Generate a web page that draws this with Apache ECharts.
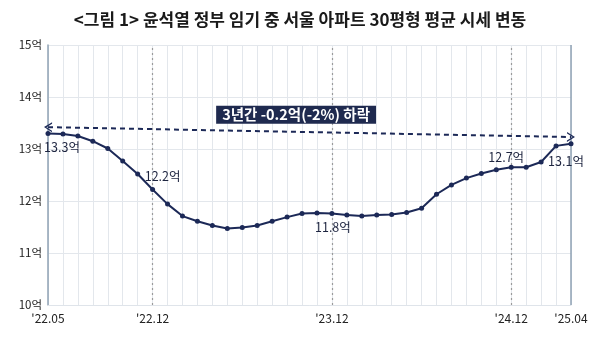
<!DOCTYPE html>
<html>
<head>
<meta charset="utf-8">
<script src="https://cdn.jsdelivr.net/npm/echarts@6/dist/echarts.min.js"></script>
<style>
  html, body { margin: 0; padding: 0; background: #fff; }
  #chart { width: 600px; height: 353px; }
</style>
</head>
<body>
<div id="chart"></div>
<script>
// 월별 카테고리 (22.05 ~ 25.04)
const months = [
  "22.05", "22.06", "22.07", "22.08", "22.09", "22.10", "22.11", "22.12",
  "23.01", "23.02", "23.03", "23.04", "23.05", "23.06", "23.07", "23.08", "23.09", "23.10", "23.11", "23.12",
  "24.01", "24.02", "24.03", "24.04", "24.05", "24.06", "24.07", "24.08", "24.09", "24.10", "24.11", "24.12",
  "25.01", "25.02", "25.03", "25.04"
];
// 서울 아파트 30평형 평균 시세 (억원)
const prices = [
  13.30, 13.29, 13.25, 13.15, 13.01, 12.77, 12.52, 12.22,
  11.94, 11.71, 11.61, 11.53, 11.47, 11.49, 11.53, 11.61, 11.69, 11.76, 11.77, 11.76,
  11.73, 11.71, 11.73, 11.74, 11.78, 11.86, 12.13, 12.31, 12.44, 12.53, 12.60, 12.65,
  12.65, 12.75, 13.06, 13.10
];
// x축 라벨 표시 월
const shownTicks = ["22.05", "22.12", "23.12", "24.12", "25.04"];
// 점선 기준 월
const guideMonths = ["22.12", "23.12", "24.12"];
// 데이터 라벨 (월 -> 텍스트)
const pointLabels = { "22.05": "13.3억", "22.12": "12.2억", "23.12": "11.8억", "24.12": "12.7억", "25.04": "13.1억" };
// 3년간 추세 화살표 (시작/끝 값)
const trendStart = 13.42, trendEnd = 13.23;
const trendText = "3년간 -0.2억(-2%) 하락";

const NAVY = "#1c2957";
const FONT = "'Noto Sans CJK KR', 'Noto Sans', sans-serif";

// 라벨 위치 (스타일)
const labelStyle = {
  "22.05": { position: "bottom", offset: [14, 0] },
  "22.12": { position: "top", offset: [10, 0] },
  "23.12": { position: "bottom", offset: [1, 0] },
  "24.12": { position: "top", offset: [-5, 4] },
  "25.04": { position: "bottom", offset: [-5, 4] }
};

const chart = echarts.init(document.getElementById("chart"));

const seriesData = prices.map((v, i) => {
  const m = months[i];
  if (!pointLabels[m]) return v;
  return {
    value: v,
    label: Object.assign({
      show: true,
      formatter: pointLabels[m],
      color: "#1e2540",
      fontSize: 12.5,
      fontFamily: FONT
    }, labelStyle[m])
  };
});

const option = {
  animation: false,
  title: {
    text: "<그림 1> 윤석열 정부 임기 중 서울 아파트 30평형 평균 시세 변동",
    left: "center",
    top: 6,
    textStyle: { fontSize: 17, fontWeight: "bold", color: "#1a1a1a", fontFamily: FONT }
  },
  grid: { left: 48, right: 29, top: 45, bottom: 48 },
  xAxis: {
    type: "category",
    data: months,
    boundaryGap: false,
    axisLine: { show: true, lineStyle: { color: "#dfe4ea" } },
    axisTick: { show: false },
    axisLabel: {
      interval: 0,
      margin: 7,
      fontSize: 12,
      color: "#222",
      fontFamily: FONT,
      formatter: (v) => shownTicks.includes(v) ? "'" + v : ""
    },
    splitLine: { show: true, interval: 0, lineStyle: { color: "#e3e7ec", width: 1 } }
  },
  yAxis: {
    type: "value",
    min: 10,
    max: 15,
    interval: 1,
    axisLine: { show: true, lineStyle: { color: "#8fa2b4", width: 1.5 } },
    axisTick: { show: false },
    axisLabel: {
      margin: 6,
      fontSize: 11.5,
      color: "#222",
      fontFamily: FONT,
      formatter: (v) => v + "억"
    },
    splitLine: { lineStyle: { color: "#e3e7ec" } }
  },
  series: [{
    type: "line",
    data: seriesData,
    symbol: "circle",
    symbolSize: 5,
    lineStyle: { color: NAVY, width: 2 },
    itemStyle: { color: NAVY },
    z: 5,
    markLine: {
      silent: true,
      symbol: "none",
      label: { show: false },
      data: [
        ...guideMonths.map(m => ({ xAxis: m, lineStyle: { color: "#9a9a9a", type: [2, 3], width: 1.2 } })),
        { xAxis: "25.04", lineStyle: { color: "#8fa2b4", type: "solid", width: 1.5 } },
        [
          {
            coord: [months[0], trendStart],
            symbol: "path://M0,10 L5,0 L10,10 L8.5,10 L5,3 L1.5,10 Z",
            symbolSize: [10, 8],
            lineStyle: { color: NAVY, type: [5, 4], width: 2 }
          },
          {
            coord: [months[months.length - 1], trendEnd],
            symbol: "path://M0,10 L5,0 L10,10 L8.5,10 L5,3 L1.5,10 Z",
            symbolSize: [10, 8]
          }
        ]
      ]
    },
    markPoint: {
      silent: true,
      symbol: "rect",
      symbolSize: 0,
      data: [{
        coord: ["23.09", 13.66],
        label: {
          show: true,
          formatter: trendText,
          offset: [9, 0],
          color: "#fff",
          fontSize: 14.5,
          fontWeight: "bold",
          fontFamily: FONT,
          lineHeight: 16,
          backgroundColor: "#1f2a4f",
          padding: [1, 6, 1, 6]
        }
      }]
    }
  }]
};

chart.setOption(option);
window.addEventListener("resize", () => chart.resize());
</script>
</body>
</html>
